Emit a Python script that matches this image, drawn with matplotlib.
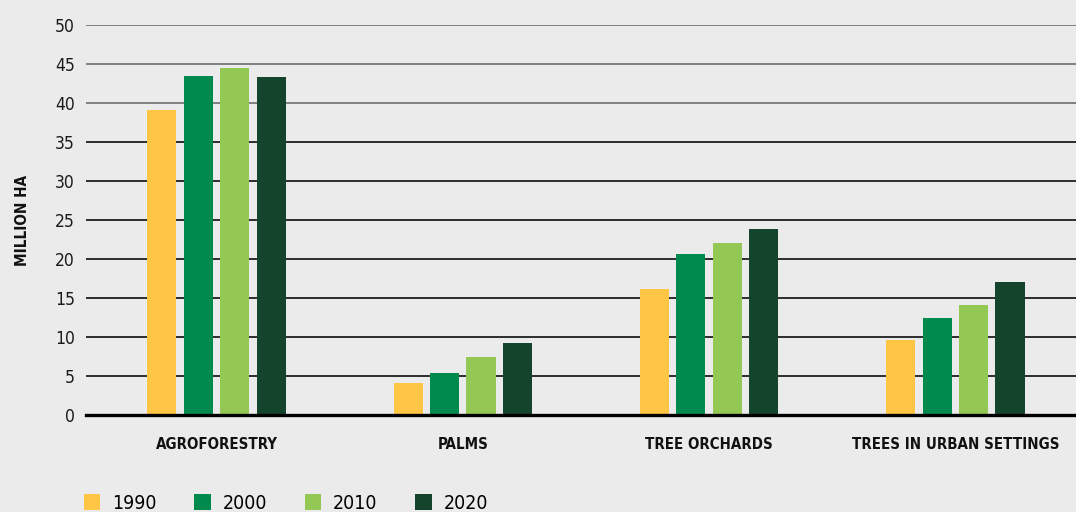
import numpy as np
import matplotlib.pyplot as plt
from matplotlib.patches import Patch

categories = ['AGROFORESTRY', 'PALMS', 'TREE ORCHARDS', 'TREES IN URBAN SETTINGS']
years = ['1990', '2000', '2010', '2020']
v1990 = [39.1, 4.1, 16.2, 9.6]
v2000 = [43.5, 5.4, 20.6, 12.4]
v2010 = [44.5, 7.4, 22.1, 14.1]
v2020 = [43.3, 9.2, 23.8, 17.1]
yticks = [0, 5, 10, 15, 20, 25, 30, 35, 40, 45, 50]

colors = ['#FFC545', '#008A4D', '#92C853', '#15442D']
bg = '#EBEBEB'
plt.rcParams['font.family'] = ['DejaVu Sans']
plt.rcParams['font.stretch'] = 'condensed'

fig = plt.figure(figsize=(10.76, 5.12), dpi=100, facecolor=bg)
ax = fig.add_axes([86/1076, 1-415/512, 990/1076, 390/512])
ax.set_facecolor(bg)

x = np.arange(len(categories))
w = 0.118
step = 0.148
for i, vals in enumerate([v1990, v2000, v2010, v2020]):
    ax.bar(x + (i - 1.5)*step, vals, width=w, color=colors[i], zorder=3)

ax.set_xlim(-0.53, 3.49)
ax.set_ylim(0, 50)
ax.set_yticks(yticks)
ax.set_yticklabels([str(t) for t in yticks], fontsize=12.5, color='#1a1a1a')
ax.set_xticks(x)
ax.set_xticklabels(categories, fontsize=10.8, fontweight='bold', color='#111111')
ax.tick_params(axis='both', length=0)
ax.tick_params(axis='y', pad=8)
ax.tick_params(axis='x', pad=16)

ax.grid(axis='y', linewidth=1.3, zorder=1)
for t, gl in zip(ax.get_yticks(), ax.get_ygridlines()):
    gl.set_color('#777777' if t >= 40 else '#1e1e1e')
for s in ['top', 'right', 'left']:
    ax.spines[s].set_visible(False)
ax.spines['bottom'].set_linewidth(2.4)
ax.spines['bottom'].set_color('#000000')
ax.spines['bottom'].set_zorder(4)

ax.set_ylabel('MILLION HA', fontsize=11, fontweight='bold', color='#111111', labelpad=18)

handles = [Patch(facecolor=c) for c in colors]
leg = fig.legend(handles, years, loc='upper left', bbox_to_anchor=(70/1076, 1-480/512),
                 ncol=4, frameon=False, fontsize=14, handlelength=0.85, handleheight=0.85,
                 handletextpad=0.6, columnspacing=1.95, borderpad=0.2)

fig.savefig('out.png', dpi=100, facecolor=bg)
